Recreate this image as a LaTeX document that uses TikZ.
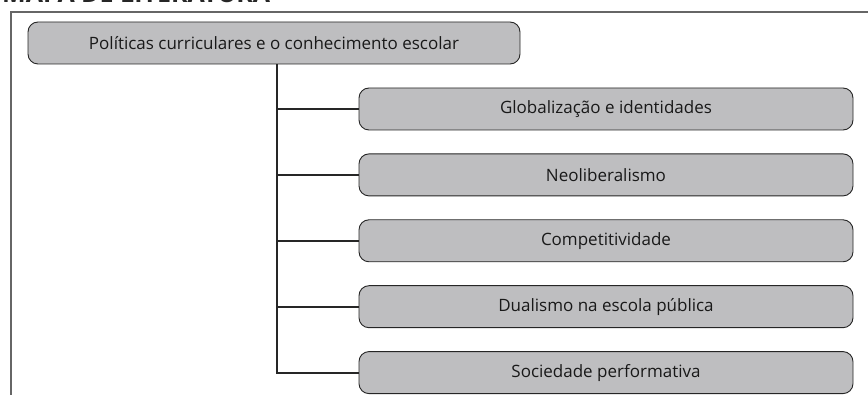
\documentclass[tikz,border=0pt]{standalone}
\usepackage{fontspec}
\setmainfont{Open Sans}
\usetikzlibrary{positioning}

\definecolor{boxgray}{HTML}{BEBEC0}
\tikzset{
	topic/.style={draw=black!85,fill=boxgray,rounded corners=10pt,line width=0.9pt,
		minimum height=42pt,align=center,text=black!90,font=\fontsize{17}{19}\selectfont},
	ramo/.style={line width=2pt,draw=black!85}
}

\begin{document}
\begin{tikzpicture}[x=1pt,y=-1pt]
			\useasboundingbox (0,0) rectangle (868,395);
			% titulo cortado no topo
			\node[anchor=base west,inner sep=0pt,font=\bfseries\fontsize{25}{27}\selectfont,text=black!85]
				(titulo) at (2,2.5) {MAPA DE LITERATURA};
			\draw[line width=1.5pt,draw=black!60] (11,395) |- (868,12);
			
			\node[topic,minimum width=492pt] (raiz) at (274,43) {Políticas curriculares e o conhecimento escolar};
			\node[topic,minimum width=494pt] (g1) at (606,109) {Globalização e identidades};
			\node[topic,minimum width=494pt,below=23pt of g1] (g2) {Neoliberalismo};
			\node[topic,minimum width=494pt,below=23pt of g2] (g3) {Competitividade};
			\node[topic,minimum width=494pt,below=23pt of g3] (g4) {Dualismo na escola pública};
			\node[topic,minimum width=494pt,below=23pt of g4] (g5) {Sociedade performativa};
			
			\coordinate (eixo) at (277,0);
			\draw[ramo] (eixo |- raiz.south) |- (g5.west);
			\path[ramo]
			(eixo |- g1.west) edge (g1.west)
			(eixo |- g2.west) edge (g2.west)
			(eixo |- g3.west) edge (g3.west)
			(eixo |- g4.west) edge (g4.west);
		\end{tikzpicture}
\end{document}
